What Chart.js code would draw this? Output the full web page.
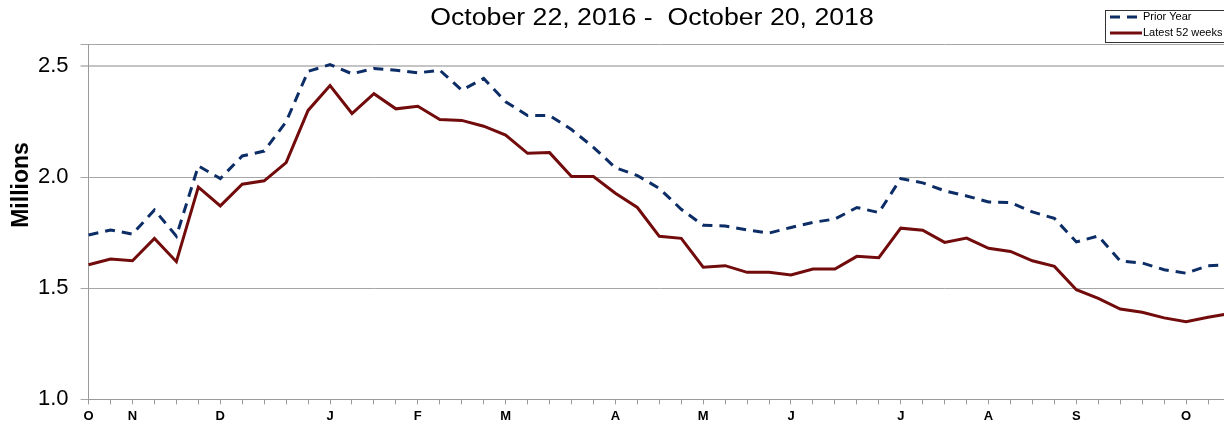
<!DOCTYPE html>
<html>
<head>
<meta charset="utf-8">
<script src="https://cdn.jsdelivr.net/npm/chart.js@4"></script>
<style>
  html, body { margin: 0; padding: 0; background: #fff; overflow: hidden; }
  #wrap { width: 1224px; height: 423px; overflow: hidden; position: relative; }
  canvas { display: block; }
</style>
</head>
<body>
<div id="wrap"><canvas id="c" width="1320" height="428"></canvas></div>
<script>
// weekly values, millions
const priorYear = [
  1.740, 1.763, 1.744, 1.853, 1.735, 2.051, 1.994, 2.096, 2.118, 2.250,
  2.477, 2.507, 2.466, 2.490, 2.482, 2.470, 2.482, 2.392, 2.445, 2.340,
  2.278, 2.278, 2.215, 2.135, 2.043, 2.008, 1.950, 1.856, 1.784, 1.781,
  1.763, 1.749, 1.774, 1.797, 1.812, 1.864, 1.841, 1.994, 1.975, 1.939,
  1.916, 1.889, 1.886, 1.844, 1.815, 1.709, 1.736, 1.623, 1.614, 1.584,
  1.568, 1.602, 1.605
];
const latest52 = [
  1.606, 1.632, 1.624, 1.725, 1.620, 1.956, 1.871, 1.969, 1.984, 2.066,
  2.301, 2.413, 2.287, 2.376, 2.308, 2.320, 2.260, 2.256, 2.230, 2.190,
  2.108, 2.111, 2.003, 2.003, 1.928, 1.864, 1.734, 1.725, 1.595, 1.602,
  1.572, 1.572, 1.560, 1.587, 1.587, 1.644, 1.638, 1.771, 1.762, 1.707,
  1.726, 1.680, 1.666, 1.624, 1.599, 1.494, 1.455, 1.407, 1.392, 1.367,
  1.350, 1.370, 1.387
];
const monthLetters = ["O", "N", "D", "J", "F", "M", "A", "M", "J", "J", "A", "S", "O"];
const monthWeek = [0, 2, 6, 11, 15, 19, 24, 28, 32, 37, 41, 45, 50];
const yTicks = [1.0, 1.5, 2.0, 2.5];
const yMin = 1.0, yMax = 2.6;

const titleText = "October 22, 2016 -  October 20, 2018";
const yTitle = "Millions";

const labels = priorYear.map(() => "");
monthWeek.forEach((w, i) => { labels[w] = monthLetters[i]; });

const NAVY = "#0c2d66";
const MAROON = "#720b0b";

const decor = {
  id: "decor",
  afterDraw(chart) {
    const ctx = chart.ctx;
    ctx.save();
    // title
    ctx.fillStyle = "#000";
    ctx.font = '23px "Liberation Sans", Arial, sans-serif';
    ctx.textAlign = "center";
    ctx.textBaseline = "alphabetic";
    ctx.translate(652, 25);
    ctx.scale(1.16, 1);
    ctx.fillText(titleText, 0, 0);
    ctx.restore();

    // y title
    ctx.save();
    ctx.fillStyle = "#000";
    ctx.font = 'bold 23px "Liberation Sans", Arial, sans-serif';
    ctx.textAlign = "center";
    ctx.textBaseline = "middle";
    ctx.translate(22, 185);
    ctx.rotate(-Math.PI / 2);
    ctx.fillText(yTitle, 0, 0);
    ctx.restore();

    // legend box
    ctx.save();
    ctx.fillStyle = "#fff";
    ctx.fillRect(1105, 10, 140, 32);
    ctx.strokeStyle = "#333";
    ctx.lineWidth = 1;
    ctx.strokeRect(1105.5, 10.5, 140, 32);
    ctx.font = '11px "Liberation Sans", Arial, sans-serif';
    ctx.textAlign = "left";
    ctx.textBaseline = "middle";
    chart.data.datasets.forEach((ds, i) => {
      const y = 17 + i * 16;
      ctx.strokeStyle = ds.borderColor;
      ctx.lineWidth = 3;
      ctx.setLineDash(ds.borderDash || []);
      ctx.beginPath();
      ctx.moveTo(1110, y);
      ctx.lineTo(1142, y);
      ctx.stroke();
      ctx.setLineDash([]);
      ctx.fillStyle = "#000";
      ctx.fillText(ds.label, 1143, y);
    });
    ctx.restore();
  }
};

new Chart(document.getElementById("c"), {
  type: "line",
  data: {
    labels: labels,
    datasets: [
      {
        label: "Prior Year",
        data: priorYear,
        borderColor: NAVY,
        borderWidth: 3,
        borderDash: [10, 7],
        pointRadius: 0,
        tension: 0,
        fill: false
      },
      {
        label: "Latest 52 weeks",
        data: latest52,
        borderColor: MAROON,
        borderWidth: 3,
        pointRadius: 0,
        tension: 0,
        fill: false
      }
    ]
  },
  options: {
    responsive: false,
    animation: false,
    devicePixelRatio: 1,
    layout: { padding: { top: 44, left: 26, right: 90, bottom: 0 } },
    plugins: {
      legend: { display: false },
      title: { display: false },
      tooltip: { enabled: false }
    },
    scales: {
      x: {
        offset: false,
        grid: {
          drawOnChartArea: false,
          drawTicks: true,
          tickLength: 5,
          color: "#9a9a9a"
        },
        border: { display: true, color: "#9a9a9a" },
        ticks: {
          autoSkip: false,
          maxRotation: 0,
          padding: 4,
          color: "#000",
          font: { family: "Liberation Sans", size: 13, weight: "bold" }
        }
      },
      y: {
        min: yMin,
        max: yMax,
        afterBuildTicks(axis) {
          axis.ticks = yTicks.concat([yMax]).map(v => ({ value: v }));
        },
        grid: {
          tickLength: 8,
          color: (c) => (c.tick && c.tick.value === 2.5) ? "#c4c4c4" : "#a6a6a6",
          lineWidth: (c) => (c.tick && c.tick.value === 2.5) ? 2 : 1
        },
        border: { display: true, color: "#9a9a9a" },
        ticks: {
          padding: 12,
          color: "#000",
          font: { family: "Liberation Sans", size: 22 },
          callback: (v) => (v === yMax ? "" : Number(v).toFixed(1))
        }
      }
    }
  },
  plugins: [decor]
});
</script>
</body>
</html>
